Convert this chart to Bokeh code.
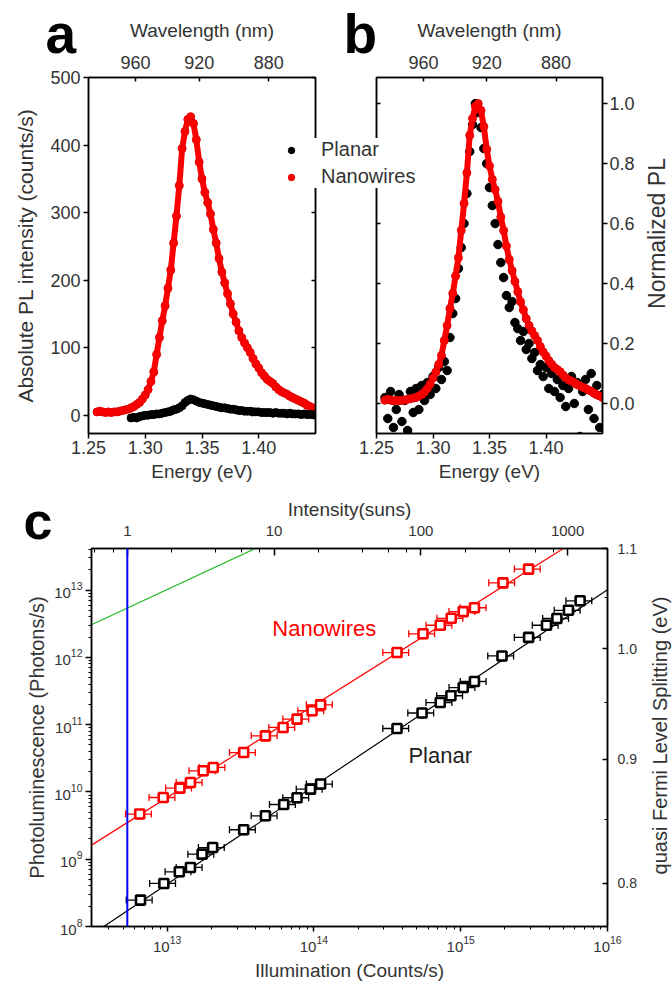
import math
from bokeh.plotting import figure
from bokeh.models import (Range1d, LinearAxis, LogAxis, LogScale, FixedTicker,
                          SingleIntervalTicker, NumeralTickFormatter, CustomJSTickFormatter,
                          Legend, LegendItem, Label, Span, Whisker, TeeHead, ColumnDataSource)
from bokeh.layouts import row, column
from bokeh.embed import file_html
from bokeh.resources import INLINE

# ---------------- panel a / b : PL spectra ----------------
energy = [1.2575, 1.2600, 1.2625, 1.2650, 1.2675, 1.2700, 1.2725, 1.2750, 1.2775, 1.2800,
          1.2825, 1.2850, 1.2875, 1.2900, 1.2925, 1.2950, 1.2975, 1.3000, 1.3025, 1.3050,
          1.3075, 1.3100, 1.3125, 1.3150, 1.3175, 1.3200, 1.3225, 1.3250, 1.3275, 1.3300,
          1.3325, 1.3350, 1.3375, 1.3400, 1.3425, 1.3450, 1.3475, 1.3500, 1.3525, 1.3550,
          1.3575, 1.3600, 1.3625, 1.3650, 1.3675, 1.3700, 1.3725, 1.3750, 1.3775, 1.3800,
          1.3825, 1.3850, 1.3875, 1.3900, 1.3925, 1.3950, 1.3975, 1.4000, 1.4025, 1.4050,
          1.4075, 1.4100, 1.4125, 1.4150, 1.4175, 1.4200, 1.4225, 1.4250, 1.4275, 1.4300,
          1.4325, 1.4350, 1.4375, 1.4400, 1.4425, 1.4450, 1.4475, 1.4500]

nanowires_abs = [5, 6, 5, 4, 5, 4, 5, 5, 6, 7,
                 8, 9, 11, 13, 16, 19, 24, 30, 38, 50,
                 64, 90, 115, 140, 162, 188, 215, 255, 295, 340,
                 395, 420, 438, 442, 432, 408, 375, 350, 330, 315,
                 298, 275, 255, 232, 212, 196, 180, 165, 150, 138,
                 125, 115, 107, 100, 93, 84, 76, 70, 63, 58,
                 53, 50, 47, 42, 38, 35, 33, 31, 28, 26,
                 24, 22, 20, 18, 15, 13, 11, 9]

planar_energy = energy[12:]
planar_abs = [-4, -3, -4, -2, -1, 0, 0, 1, 1, 2,
              2, 3, 4, 5, 6, 8, 9, 11, 14, 19,
              22, 24, 23, 21, 19, 18, 17, 16, 15, 14,
              13, 12, 11, 11, 10, 9, 9, 8, 7, 7,
              6, 6, 6, 5, 5, 5, 4, 4, 4, 4,
              3, 4, 3, 3, 3, 2, 3, 2, 2, 2,
              1, 2, 1, 1, 1, 0]

nanowires_norm = [0.011, 0.014, 0.011, 0.009, 0.011, 0.009, 0.011, 0.011, 0.014, 0.016,
                  0.018, 0.020, 0.025, 0.030, 0.038, 0.050, 0.065, 0.085, 0.105, 0.130,
                  0.160, 0.210, 0.260, 0.317, 0.367, 0.425, 0.486, 0.577, 0.667, 0.769,
                  0.894, 0.950, 0.991, 1.000, 0.977, 0.923, 0.848, 0.792, 0.747, 0.713,
                  0.674, 0.622, 0.577, 0.525, 0.480, 0.443, 0.407, 0.373, 0.339, 0.312,
                  0.283, 0.260, 0.242, 0.226, 0.210, 0.190, 0.172, 0.158, 0.143, 0.131,
                  0.120, 0.113, 0.106, 0.095, 0.086, 0.079, 0.075, 0.070, 0.063, 0.059,
                  0.054, 0.050, 0.045, 0.041, 0.034, 0.029, 0.025, 0.020]

planar_norm = [0.02, -0.05, 0.04, -0.08, -0.02, 0.03, -0.06, 0.01, -0.09, 0.04,
               -0.03, 0.05, -0.02, 0.06, 0.01, 0.07, 0.03, 0.09, 0.05, 0.12,
               0.08, 0.14, 0.11, 0.22, 0.30, 0.35, 0.45, 0.52, 0.60, 0.70,
               0.84, 0.93, 1.00, 0.97, 0.92, 0.85, 0.80, 0.72, 0.66, 0.60,
               0.53, 0.47, 0.42, 0.36, 0.32, 0.34, 0.27, 0.25, 0.21, 0.24,
               0.18, 0.20, 0.15, 0.17, 0.11, 0.13, 0.09, 0.12, 0.05, 0.10,
               0.04, 0.08, 0.02, 0.06, -0.01, 0.05, 0.09, 0.00, 0.07, -0.11,
               0.04, 0.08, -0.02, 0.10, -0.05, 0.06, -0.08, 0.03]

wavelength_ticks = [960, 920, 880]          # nm, top axes of a and b
HC = 1239.84                                 # eV*nm

# ---------------- panel c : PL vs illumination ----------------
nw_illum = [6.5e12, 9.4e12, 1.22e13, 1.44e13, 1.76e13, 2.06e13, 3.32e13, 4.67e13, 6.16e13, 7.67e13,
            9.71e13, 1.11e14, 3.68e14, 5.53e14, 7.25e14, 8.61e14, 1.04e15, 1.24e15, 1.94e15, 2.90e15]
nw_pl = [4.69e9, 8.26e9, 1.14e10, 1.38e10, 2.06e10, 2.31e10, 3.85e10, 6.82e10, 9.08e10, 1.21e11,
         1.61e11, 1.97e11, 1.18e12, 2.24e12, 3.0e12, 3.81e12, 4.79e12, 5.46e12, 1.28e13, 2.05e13]

pl_illum = [6.58e12, 9.49e12, 1.21e13, 1.44e13, 1.73e13, 2.04e13, 3.32e13, 4.67e13, 6.22e13, 7.67e13,
            9.47e13, 1.11e14, 3.68e14, 5.45e14, 7.25e14, 8.57e14, 1.04e15, 1.24e15, 1.91e15, 2.90e15,
            3.84e15, 4.52e15, 5.42e15, 6.51e15]
pl_pl = [2.47e8, 4.36e8, 6.5e8, 7.54e8, 1.19e9, 1.49e9, 2.74e9, 4.42e9, 6.5e9, 8.19e9,
         1.10e10, 1.31e10, 8.77e10, 1.49e11, 2.13e11, 2.69e11, 3.56e11, 4.38e11, 1.05e12, 1.98e12,
         3.0e12, 3.78e12, 5.01e12, 6.93e12]

x_rel_err = 0.20
y_rel_err = 0.15

nw_fit_x = [3.05e12, 5.0e15]
nw_fit_y = [1.62e9, 4.15e13]
pl_fit_x = [3.70e12, 1.0e16]
pl_fit_y = [1.0e8, 1.01e13]
limit_x = [3.05e12, 3.99e13]
limit_y = [3.05e12, 4.15e13]
ONE_SUN = 5.35e12

ILLUM_RANGE = (3.05e12, 1.0e16)
PL_RANGE = (1.0e8, 4.15e13)
QFLS_RANGE = (0.7677, 1.1)

FONT = "Liberation Sans"
TXT = "#333333"
RED = "#ff0000"


def style(ax, lsize="18px", tsize="19px", t_in=0, t_out=5, m_in=0, m_out=0, lstand=3, tstand=8):
    ax.axis_line_color = "black"
    ax.axis_line_width = 1.5
    ax.major_tick_line_color = "black"
    ax.major_tick_line_width = 1.5
    ax.major_tick_in = t_in
    ax.major_tick_out = t_out
    ax.minor_tick_in = m_in
    ax.minor_tick_out = m_out
    ax.minor_tick_line_color = "black" if (m_in or m_out) else None
    ax.minor_tick_line_width = 1
    ax.major_label_text_font = FONT
    ax.major_label_text_font_size = lsize
    ax.major_label_text_color = TXT
    ax.major_label_standoff = lstand
    ax.axis_label_text_font = FONT
    ax.axis_label_text_font_size = tsize
    ax.axis_label_text_font_style = "normal"
    ax.axis_label_text_color = TXT
    ax.axis_label_standoff = tstand


def blank():
    return CustomJSTickFormatter(code="return '';")


def wl_axis():
    ax = LinearAxis(ticker=FixedTicker(ticks=[HC / w for w in wavelength_ticks]),
                    formatter=CustomJSTickFormatter(code="return Math.round(1239.84 / tick).toString();"),
                    axis_label="Wavelength (nm)")
    style(ax, t_in=4, t_out=0, lstand=9, tstand=12)
    return ax


def no_align(p):
    if "frame_align" in p.properties():
        p.frame_align = False


def base_fig(**kw):
    p = figure(output_backend="svg", toolbar_location=None, **kw)
    p.grid.visible = False
    p.outline_line_color = "black"
    p.outline_line_width = 1.5
    p.outline_line_alpha = 1
    no_align(p)
    return p


# ---------- panel a ----------
pa = base_fig(width=345, height=490, x_range=Range1d(1.25, 1.45), y_range=Range1d(-27, 500),
              min_border_left=88, min_border_right=30, min_border_top=77, min_border_bottom=57)
pa.xaxis.ticker = SingleIntervalTicker(interval=0.05, num_minor_ticks=0)
pa.xaxis.formatter = NumeralTickFormatter(format="0.00")
pa.xaxis.axis_label = "Energy (eV)"
style(pa.xaxis[0], t_out=5, lstand=2, tstand=4)
pa.yaxis.ticker = SingleIntervalTicker(interval=100, num_minor_ticks=0)
pa.yaxis.axis_label = "Absolute PL intensity (counts/s)"
style(pa.yaxis[0], t_out=5, lstand=3, tsize="21px", tstand=10)
pa.add_layout(wl_axis(), "above")
ra = LinearAxis(ticker=SingleIntervalTicker(interval=100, num_minor_ticks=0), formatter=blank())
style(ra, t_in=4, t_out=0, lstand=0)
pa.add_layout(ra, "right")

pa.line(energy, nanowires_abs, line_color=RED, line_width=6)
pa.scatter(energy, nanowires_abs, marker="circle", size=8, fill_color=RED, line_color="#e00000")
pa.line(planar_energy, planar_abs, line_color="black", line_width=6)
pa.scatter(planar_energy, planar_abs, marker="circle", size=8, fill_color="black", line_color="black")

# ---------- panel b ----------
pb = base_fig(width=327, height=490, x_range=Range1d(1.25, 1.45), y_range=Range1d(-0.1, 1.087),
              y_axis_location="right",
              min_border_left=31, min_border_right=70, min_border_top=77, min_border_bottom=57)
pb.xaxis.ticker = SingleIntervalTicker(interval=0.05, num_minor_ticks=0)
pb.xaxis.formatter = NumeralTickFormatter(format="0.00")
pb.xaxis.axis_label = "Energy (eV)"
style(pb.xaxis[0], t_out=5, lstand=2, tstand=4)
pb.yaxis.ticker = SingleIntervalTicker(interval=0.2, num_minor_ticks=0)
pb.yaxis.formatter = NumeralTickFormatter(format="0.0")
style(pb.yaxis[0], t_out=5, lstand=2, tstand=12)
pb.add_layout(wl_axis(), "above")
la = LinearAxis(ticker=SingleIntervalTicker(interval=0.2, num_minor_ticks=0), formatter=blank())
style(la, t_in=4, t_out=0, lstand=0)
pb.add_layout(la, "left")

pb.scatter(energy, planar_norm, marker="circle", size=8.5, fill_color="black", line_color="black")
pb.line(energy, nanowires_norm, line_color=RED, line_width=6)
pb.scatter(energy, nanowires_norm, marker="circle", size=8, fill_color=RED, line_color="#e00000")

# ---------- panel c ----------
pc = base_fig(width=672, height=493, x_axis_type="log", y_axis_type="log",
              x_range=Range1d(*ILLUM_RANGE), y_range=Range1d(*PL_RANGE),
              min_border_left=91, min_border_right=65, min_border_top=58, min_border_bottom=57)
pc.xaxis.axis_label = "Illumination (Counts/s)"
style(pc.xaxis[0], lsize="15px", tsize="19px", t_out=5, m_out=3, lstand=4, tstand=5)
pc.yaxis.axis_label = "Photoluminescence (Photons/s)"
style(pc.yaxis[0], lsize="15px", tsize="20px", t_out=6, m_out=3, lstand=3, tstand=3)

pc.extra_x_ranges = {"suns": Range1d(ILLUM_RANGE[0] / ONE_SUN, ILLUM_RANGE[1] / ONE_SUN)}
pc.extra_x_scales = {"suns": LogScale()}
top_c = LogAxis(x_range_name="suns", axis_label="Intensity(suns)", formatter=NumeralTickFormatter(format="0"))
style(top_c, lsize="15px", tsize="19px", t_in=7, t_out=0, m_in=4, lstand=13, tstand=3)
pc.add_layout(top_c, "above")

pc.extra_y_ranges = {"eV": Range1d(*QFLS_RANGE)}
right_c = LinearAxis(y_range_name="eV",
                     ticker=SingleIntervalTicker(interval=0.1, num_minor_ticks=2),
                     formatter=NumeralTickFormatter(format="0.0"))
style(right_c, lsize="14px", t_in=5, t_out=0, m_in=3, lstand=10)
pc.add_layout(right_c, "right")

pc.line(limit_x, limit_y, line_color="#22bb22", line_width=1.3)
pc.line(nw_fit_x, nw_fit_y, line_color=RED, line_width=1.2)
pc.line(pl_fit_x, pl_fit_y, line_color="black", line_width=1.2)
pc.add_layout(Span(location=ONE_SUN, dimension="height", line_color="#0000ff", line_width=2))

for xs, ys, col in ((nw_illum, nw_pl, RED), (pl_illum, pl_pl, "black")):
    src = ColumnDataSource(dict(
        x=xs, y=ys,
        xl=[v * (1 - x_rel_err) for v in xs], xu=[v * (1 + x_rel_err) for v in xs],
        yl=[v * (1 - y_rel_err) for v in ys], yu=[v * (1 + y_rel_err) for v in ys]))
    pc.add_layout(Whisker(source=src, base="y", lower="xl", upper="xu", dimension="width",
                          line_color=col, line_width=1.3,
                          lower_head=TeeHead(size=7, line_color=col, line_width=1.3),
                          upper_head=TeeHead(size=7, line_color=col, line_width=1.3)))
    pc.add_layout(Whisker(source=src, base="x", lower="yl", upper="yu", dimension="height",
                          line_color=col, line_width=1.3,
                          lower_head=TeeHead(size=5, line_color=col, line_width=1.3),
                          upper_head=TeeHead(size=5, line_color=col, line_width=1.3)))
    pc.scatter("x", "y", source=src, marker="square", size=9, fill_color="white",
               line_color=col, line_width=2.6)

pc.add_layout(Label(x=5.2e13, y=2.7e12, text="Nanowires", text_font=FONT, text_font_size="22px",
                    text_color=RED, text_baseline="middle"))
pc.add_layout(Label(x=4.4e14, y=3.44e10, text="Planar", text_font=FONT, text_font_size="22px",
                    text_color="#222222", text_baseline="middle"))

# ---------- transparent overlay: panel letters, shared legend, right-hand titles ----------
ov = figure(width=672, height=983, x_range=Range1d(0, 672), y_range=Range1d(983, 0),
            min_border_left=0, min_border_right=0, min_border_top=0, min_border_bottom=0,
            x_axis_location=None, y_axis_location=None, output_backend="svg",
            toolbar_location=None, margin=(-983, 0, 0, 0))
no_align(ov)
ov.grid.visible = False
ov.outline_line_color = None
ov.border_fill_alpha = 0
ov.background_fill_alpha = 0

for txt, x, y, size in (("a", 45, 33, "55px"), ("b", 343, 33, "55px"), ("c", 23, 520, "52px")):
    ov.add_layout(Label(x=x, y=y, text=txt, text_font=FONT, text_font_size=size,
                        text_font_style="bold", text_color="black", text_baseline="alphabetic"))

ov.add_layout(Label(x=656, y=233, text="Normalized PL", angle=math.pi / 2, text_align="center",
                    text_baseline="middle", text_font=FONT, text_font_size="23px", text_color=TXT))
ov.add_layout(Label(x=659, y=735, text="quasi Fermi Level Splitting (eV)", angle=math.pi / 2,
                    text_align="center", text_baseline="middle", text_font=FONT,
                    text_font_size="20px", text_color=TXT))

# hidden renderers that only provide the legend glyphs
leg_black = ov.scatter(energy, planar_norm, marker="circle", size=8, fill_color="black",
                       line_color="black", visible=False)
leg_red = ov.scatter(energy, nanowires_norm, marker="circle", size=8, fill_color=RED,
                     line_color="#e00000", visible=False)
leg = Legend(items=[LegendItem(label="Planar", renderers=[leg_black]),
                    LegendItem(label="Nanowires", renderers=[leg_red])],
             location=(283, 795), padding=6, spacing=4, glyph_width=16, glyph_height=22,
             label_height=22, label_standoff=22, border_line_color=None,
             background_fill_color="white", background_fill_alpha=1,
             label_text_font=FONT, label_text_font_size="20px", label_text_color=TXT)
ov.add_layout(leg)

layout = column(row(pa, pb), pc, ov)
open("out.html", "w").write(file_html(layout, INLINE))
